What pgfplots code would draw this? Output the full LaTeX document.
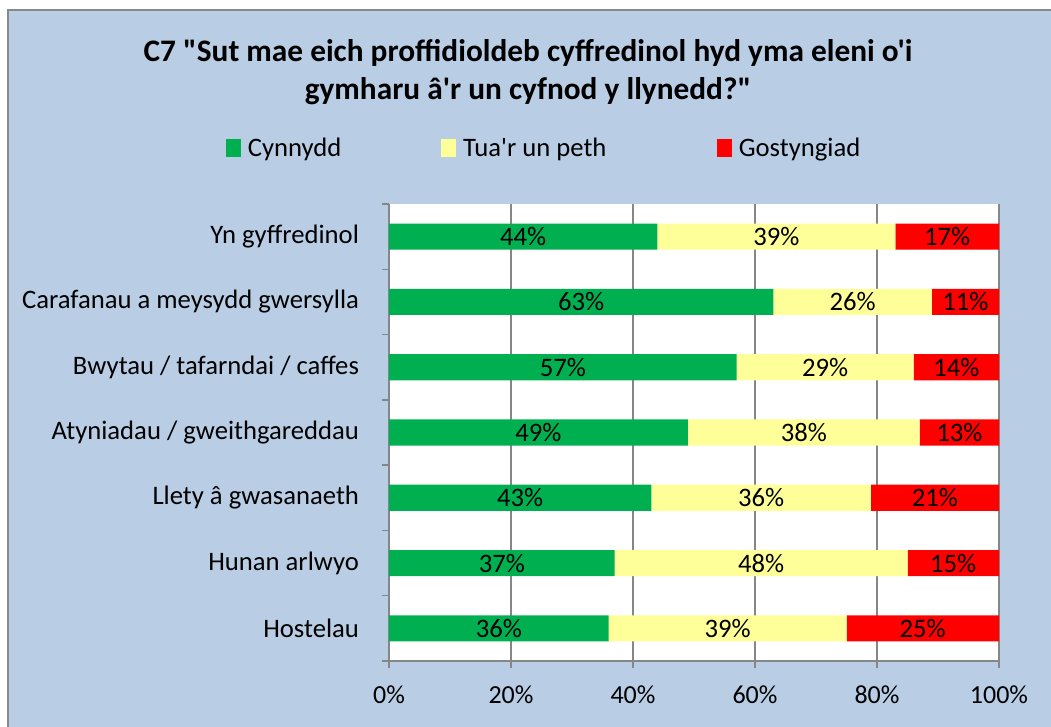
\documentclass[border=0pt]{standalone}
\usepackage{fontspec}
\setmainfont{Carlito}[Ligatures=TeXOff]
\usepackage{pgfplots}
\pgfplotsset{compat=1.18}
\definecolor{bgblue}{RGB}{185,205,229}
\definecolor{cgreen}{RGB}{0,176,80}
\definecolor{cyellow}{RGB}{255,255,153}
\definecolor{cred}{RGB}{255,0,0}
\definecolor{gridgray}{RGB}{134,134,134}
\definecolor{bordergray}{RGB}{137,137,137}

\pgfplotstableread{
y g t r
6 44 39 17
5 63 26 11
4 57 29 14
3 49 38 13
2 43 36 21
1 37 48 15
0 36 39 25
}\datatable

\begin{document}
\begin{tikzpicture}[x=0.75pt,y=0.75pt]
\useasboundingbox (0,0) rectangle (1051,727);
\clip (0,0) rectangle (1051,727);
\fill[white] (0,0) rectangle (1051,727);
\filldraw[fill=bgblue, draw=bordergray, line width=1.5pt] (8,-20) rectangle (1070,717);
\node[font=\bfseries\fontsize{23.5}{29}\selectfont, align=center] at (528,655)
  {C7 "Sut mae eich proffidioldeb cyffredinol hyd yma eleni o'i\\gymharu â'r un cyfnod y llynedd?"};
\begin{axis}[
  at={(291.75pt,49.5pt)}, anchor=south west,
  scale only axis, width=457.5pt, height=342.75pt,
  xbar stacked, bar width=0.4,
  xmin=0, xmax=100, ymin=-0.5, ymax=6.5,
  axis x line*=bottom, axis y line*=left,
  axis line style={draw=gridgray, line width=1.2pt, -},
  axis background/.style={fill=white},
  /pgf/number format/assume math mode=true,
  xmajorgrids, grid style={draw=gridgray, line width=1.1pt},
  xtick={0,20,...,100},
  xticklabel={\pgfmathprintnumber{\tick}\%},
  xticklabel style={font=\fontsize{19.5}{22}\selectfont, yshift=-10pt},
  tick align=outside, major tick length=5pt, minor tick length=5pt,
  major x tick style={draw=gridgray, line width=1.1pt},
  ytick={0,...,6},
  yticklabels={Hostelau, Hunan arlwyo, Llety â gwasanaeth, Atyniadau / gweithgareddau, Bwytau / tafarndai / caffes, Carafanau a meysydd gwersylla, Yn gyffredinol},
  yticklabel style={font=\fontsize{20}{22}\selectfont, xshift=-14pt},
  major y tick style={draw=none},
  minor ytick={-0.5,0.5,...,6.5},
  minor y tick style={draw=gridgray, line width=1.1pt},
  nodes near coords={\pgfmathprintnumber{\pgfplotspointmeta}\%},
  every node near coord/.append style={anchor=center, font=\fontsize{20}{22}\selectfont},
  legend style={at={(-0.2740,1.1225)}, anchor=west, draw=none, fill=none,
     legend columns=3, font=\fontsize{20}{22}\selectfont,
     /tikz/every odd column/.append style={column sep=3pt},
     /tikz/every even column/.append style={column sep=73pt}},
  legend image code/.code={\fill[#1] (0pt,-6.4pt) rectangle (11.25pt,6.4pt);},
  clip=false,
]
\addplot[fill=cgreen, draw=none] table[x=g, y=y] {\datatable};
\addplot[fill=cyellow, draw=none] table[x=t, y=y] {\datatable};
\addplot[fill=cred, draw=none] table[x=r, y=y] {\datatable};
\legend{Cynnydd, Tua'r un peth\kern8pt, Gostyngiad}
\end{axis}
\end{tikzpicture}
\end{document}
